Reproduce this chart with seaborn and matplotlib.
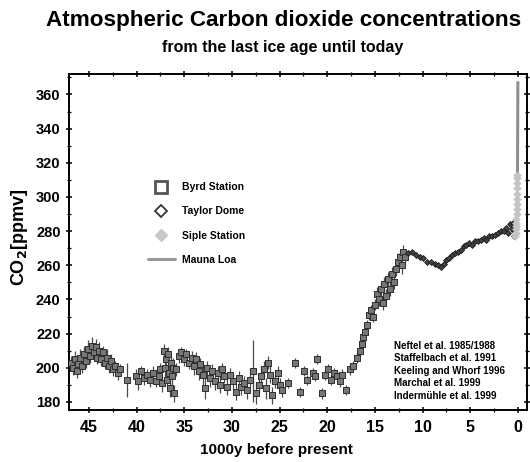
import matplotlib
matplotlib.use("Agg")
import matplotlib.pyplot as plt
from matplotlib.lines import Line2D
from matplotlib.ticker import MultipleLocator
import seaborn as sns
import pandas as pd

# ---------------- data ----------------
byrd_age = [46.9, 46.7, 46.5, 46.3, 46.1, 45.9, 45.7, 45.5, 45.3, 45.1, 44.9, 44.7, 44.5, 44.3,
            44.1, 43.9, 43.7, 43.5, 43.3, 43.1, 42.9, 42.7, 42.5, 42.3, 42.0, 41.7, 41.0, 40.1,
            39.8, 39.5, 39.2, 38.9, 38.6, 38.3, 38.0, 37.7, 37.5, 37.3, 37.1, 37.0, 36.9, 36.8,
            36.7, 36.6, 36.5, 36.4, 36.3, 36.2, 36.1, 35.9, 35.6, 35.3, 35.0, 34.8, 34.5, 34.2,
            34.0, 33.8, 33.5, 33.3, 33.0, 32.8, 32.6, 32.3, 32.1, 31.8, 31.5, 31.3, 31.0, 30.8,
            30.5, 30.2, 29.9, 29.6, 29.3, 29.0, 28.7, 28.4, 28.1, 27.8, 27.5, 27.2, 26.9, 26.6,
            26.4, 26.2, 26.0, 25.8, 25.5, 25.2, 25.0, 24.7, 24.1, 23.4, 22.9, 22.4, 22.1, 21.5,
            21.3, 21.1, 20.5, 20.2, 19.9, 19.6, 19.3, 19.0, 18.7, 18.4, 18.0, 17.6, 17.3, 16.9,
            16.6, 16.4, 16.2, 16.0, 15.8, 15.6, 15.4, 15.2, 15.0, 14.8, 14.6, 14.4, 14.2, 14.0,
            13.8, 13.6, 13.4, 13.2, 13.0, 12.8, 12.6, 12.4, 12.2, 12.0, 11.8]
byrd_co2 = [203, 200, 205, 198, 202, 206, 201, 208, 204, 211, 207, 213, 209, 212,
            206, 210, 205, 209, 203, 206, 201, 204, 199, 201, 197, 199, 193, 195,
            192, 198, 194, 196, 193, 197, 192, 195, 199, 191, 210, 200, 205, 193,
            208, 197, 188, 203, 195, 200, 185, 199, 207, 209, 205, 208, 203, 206,
            201, 205, 198, 202, 196, 188, 200, 194, 198, 192, 197, 190, 199, 195,
            189, 196, 192, 186, 194, 189, 191, 187, 193, 198, 185, 190, 195, 199,
            188, 203, 196, 184, 192, 197, 190, 187, 191, 203, 186, 198, 193, 197,
            195, 205, 185, 196, 199, 193, 197, 195, 192, 196, 187, 199, 201, 206,
            210, 214, 218, 221, 225, 231, 234, 230, 237, 243, 240, 246, 238, 249,
            242, 252, 246, 255, 250, 258, 262, 265, 260, 268, 265]
byrd_err = [4, 4, 5, 4, 4, 5, 4, 5, 4, 5, 4, 5, 4, 5,
            4, 5, 4, 4, 4, 5, 4, 4, 4, 3, 4, 3, 10, 4,
            5, 3, 4, 3, 4, 4, 3, 4, 4, 5, 4, 6, 5, 5,
            4, 6, 5, 4, 5, 6, 5, 4, 4, 3, 4, 3, 4, 4,
            5, 4, 5, 4, 6, 6, 4, 5, 4, 5, 4, 5, 4, 4,
            5, 4, 5, 5, 4, 5, 4, 5, 4, 18, 6, 5, 6, 5,
            6, 4, 5, 5, 4, 4, 4, 4, 3, 3, 3, 3, 3, 3,
            3, 3, 3, 3, 3, 3, 3, 3, 3, 3, 3, 3, 3, 3,
            3, 3, 3, 3, 3, 3, 3, 3, 3, 4, 4, 4, 4, 4,
            4, 4, 4, 4, 4, 4, 5, 4, 5, 4, 4]

taylor_age = [11.5, 11.1, 10.7, 10.3, 9.9, 9.5, 9.1, 8.7, 8.4, 8.1, 7.8, 7.5, 7.2, 6.9,
              6.6, 6.3, 6.0, 5.7, 5.4, 5.1, 4.8, 4.5, 4.2, 3.9, 3.6, 3.3, 3.0, 2.7,
              2.4, 2.1, 1.8, 1.5, 1.2, 1.0, 0.8, 0.6, 0.5, 0.4, 0.3]
taylor_co2 = [267, 268, 266, 265, 264, 262, 262, 261, 260, 259, 261, 263, 264, 266,
              267, 268, 269, 271, 272, 273, 272, 274, 274, 275, 276, 275, 277, 277,
              278, 279, 280, 280, 282, 279, 284, 281, 285, 277, 283]

siple_age = [0.25, 0.23, 0.21, 0.19, 0.17, 0.15, 0.13, 0.12, 0.11, 0.10, 0.09, 0.08,
             0.07, 0.06, 0.05]
siple_co2 = [277, 279, 281, 283, 285, 287, 290, 293, 296, 299, 302, 305, 308, 311, 313]

mauna_age = [0.042, 0.035, 0.030, 0.025, 0.020, 0.015, 0.010, 0.005, 0.0]
mauna_co2 = [315, 320, 325, 331, 338, 346, 354, 361, 367]

x_ticks = [45, 40, 35, 30, 25, 20, 15, 10, 5, 0]
y_ticks = [180, 200, 220, 240, 260, 280, 300, 320, 340, 360]

refs = ["Neftel et al. 1985/1988", "Staffelbach et al. 1991", "Keeling and Whorf 1996",
        "Marchal et al. 1999", "Indermühle et al. 1999"]

# ---------------- style ----------------
sns.set_theme(style="ticks")
plt.rcParams["font.family"] = ["Liberation Sans", "DejaVu Sans"]
plt.rcParams["font.weight"] = "bold"
for key in ["text.color", "axes.labelcolor", "xtick.color", "ytick.color", "axes.edgecolor"]:
    plt.rcParams[key] = "black"

fig = plt.figure(figsize=(5.3, 4.62), dpi=100)
ax = fig.add_axes([0.130, 0.1126, 0.864, 0.7274])

byrd = pd.DataFrame({"age": byrd_age, "co2": byrd_co2, "err": byrd_err})
taylor = pd.DataFrame({"age": taylor_age, "co2": taylor_co2})
siple = pd.DataFrame({"age": siple_age, "co2": siple_co2})
mauna = pd.DataFrame({"age": mauna_age, "co2": mauna_co2})

ax.errorbar(byrd["age"], byrd["co2"], yerr=byrd["err"], fmt="none",
            ecolor="#4a4a4a", elinewidth=0.9, capsize=0, zorder=2)
sns.scatterplot(data=byrd, x="age", y="co2", marker="s", s=14,
                facecolor="#777777", edgecolor="#2e2e2e", linewidth=0.7, ax=ax, zorder=3)
sns.scatterplot(data=taylor, x="age", y="co2", marker="D", s=9,
                facecolor="#444444", edgecolor="#1a1a1a", linewidth=0.6, ax=ax, zorder=3)
sns.scatterplot(data=siple, x="age", y="co2", marker="D", s=16,
                color="#c4c4c4", edgecolor="#c4c4c4", ax=ax, zorder=3)
sns.lineplot(data=mauna, x="age", y="co2", sort=False, color="#8f8f8f",
             linewidth=2.2, ax=ax, zorder=4)

ax.set_xlim(47.1, -0.94)
ax.set_ylim(175.3, 372)
ax.set_xticks(x_ticks)
ax.set_xticklabels([str(t) for t in x_ticks])
ax.set_yticks(y_ticks)
ax.set_yticklabels([str(t) for t in y_ticks])
ax.xaxis.set_minor_locator(MultipleLocator(2.5))
ax.yaxis.set_minor_locator(MultipleLocator(10))
ax.tick_params(axis="both", which="major", direction="inout", length=5, width=1.1,
               top=True, right=True, labelsize=10.5, colors="black")
ax.tick_params(axis="x", which="major", labelsize=11.5, pad=5)
ax.tick_params(axis="both", which="minor", direction="inout", length=3, width=0.9,
               top=True, right=True)
for lab in ax.get_xticklabels() + ax.get_yticklabels():
    lab.set_fontweight("bold")
for sp in ax.spines.values():
    sp.set_linewidth(1.4)
    sp.set_color("black")

ax.set_xlabel("1000y before present", fontsize=11, fontweight="bold")
ax.xaxis.set_label_coords(0.454, -0.098)
ax.set_ylabel("CO$_\\mathbf{2}$[ppmv]", fontsize=13, fontweight="bold")
ax.yaxis.set_label_coords(-0.085, 0.515)

fig.text(0.535, 0.955, "Atmospheric Carbon dioxide concentrations", ha="center", va="center",
         fontsize=16.2, fontweight="bold")
fig.text(0.533, 0.898, "from the last ice age until today", ha="center", va="center",
         fontsize=11.5, fontweight="bold")

handles = [
    Line2D([], [], linestyle="none", marker="s", markersize=8, markerfacecolor="white",
           markeredgecolor="#555555", markeredgewidth=2.0),
    Line2D([], [], linestyle="none", marker="D", markersize=6, markerfacecolor="white",
           markeredgecolor="#333333", markeredgewidth=1.3),
    Line2D([], [], linestyle="none", marker="D", markersize=6, markerfacecolor="#c8c8c8",
           markeredgecolor="#c8c8c8"),
    Line2D([], [], color="#999999", linewidth=2.2),
]
leg = ax.legend(handles, ["Byrd Station", "Taylor Dome", "Siple Station", "Mauna Loa"],
                loc="upper left", bbox_to_anchor=(0.152, 0.705), frameon=False,
                prop={"weight": "bold", "size": 7.5}, labelspacing=1.35,
                handlelength=2.6, handletextpad=0.7)

ref_text = "\n".join(refs)
ax.text(0.71, 0.205, ref_text, transform=ax.transAxes, ha="left", va="top",
        fontsize=7, fontweight="bold", linespacing=1.3)

fig.savefig("out.png", dpi=100)
